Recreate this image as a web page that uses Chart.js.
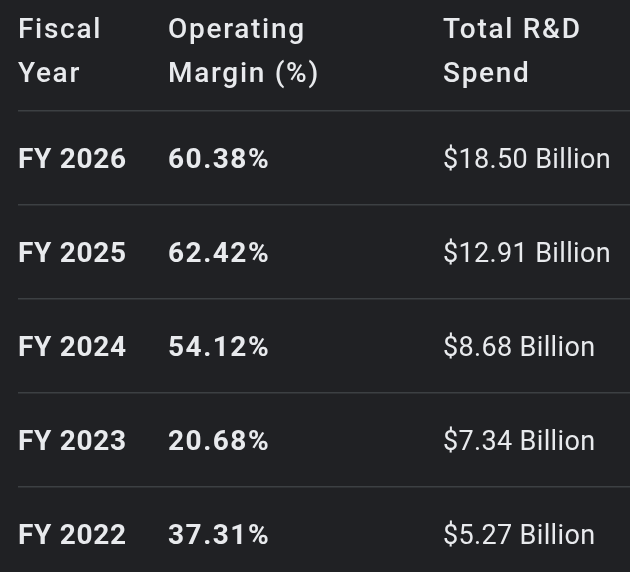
<!DOCTYPE html>
<html>
<head>
<meta charset="utf-8">
<script src="https://cdn.jsdelivr.net/npm/chart.js@4"></script>
<style>
html,body{margin:0;padding:0;background:#202124;overflow:hidden;}
#wrap{width:630px;height:581px;}
</style>
</head>
<body>
<div id="wrap"><canvas id="c" width="630" height="581"></canvas></div>
<script>
const headers = [["Fiscal","Year"],["Operating","Margin (%)"],["Total R&D","Spend"]];
const fiscalYears = ["FY 2026","FY 2025","FY 2024","FY 2023","FY 2022"];
const operatingMargin = [60.38, 62.42, 54.12, 20.68, 37.31];
const rdSpendBillion = [18.50, 12.91, 8.68, 7.34, 5.27];

const COLS = [0, 150, 425];
const TEXT = '#e8eaed';
const FONT = 'Roboto';

function setFont(ctx, f, spacing) {
  ctx.font = f;
  if ('letterSpacing' in ctx) ctx.letterSpacing = spacing + 'px';
}

const tablePlugin = {
  id: 'tableText',
  beforeDraw(chart) {
    const ctx = chart.ctx;
    ctx.save();
    ctx.fillStyle = '#202124';
    ctx.fillRect(0, 0, chart.width, chart.height);
    ctx.restore();
  },
  afterDraw(chart) {
    const ctx = chart.ctx;
    const ys = chart.scales.y;
    const left = chart.chartArea.left;
    ctx.save();
    ctx.fillStyle = TEXT;
    ctx.textAlign = 'left';
    ctx.textBaseline = 'alphabetic';
    setFont(ctx, '500 28px ' + FONT, 1.7);
    headers.forEach((h, c) => {
      h.forEach((line, k) => {
        ctx.fillText(line, left + COLS[c], 38 + k * 44);
      });
    });
    fiscalYears.forEach((yr, i) => {
      const y = ys.getPixelForValue(i) + 10;
      setFont(ctx, '700 28px ' + FONT, 0.7);
      ctx.fillText(yr, left + COLS[0], y);
      setFont(ctx, '700 28px ' + FONT, 1.5);
      ctx.fillText(operatingMargin[i].toFixed(2) + '%', left + COLS[1], y);
      setFont(ctx, '400 27px ' + FONT, 0.35);
      ctx.fillText('$' + rdSpendBillion[i].toFixed(2) + ' Billion', left + COLS[2], y);
    });
    ctx.restore();
  }
};

new Chart(document.getElementById('c'), {
  type: 'bar',
  data: {
    labels: fiscalYears,
    datasets: [{
      label: 'Operating Margin (%)',
      data: operatingMargin,
      backgroundColor: 'rgba(0,0,0,0)',
      borderWidth: 0
    }]
  },
  options: {
    indexAxis: 'y',
    responsive: false,
    animation: false,
    events: [],
    layout: { padding: { top: 111, left: 18, right: 0, bottom: 0 } },
    plugins: { legend: { display: false }, tooltip: { enabled: false } },
    scales: {
      x: { display: false, min: 0, max: 100 },
      y: {
        type: 'category',
        offset: true,
        border: { display: false },
        ticks: { display: false },
        grid: { offset: true, color: '#3c4043', lineWidth: 1.5, drawTicks: false }
      }
    }
  },
  plugins: [tablePlugin]
});
</script>
</body>
</html>
